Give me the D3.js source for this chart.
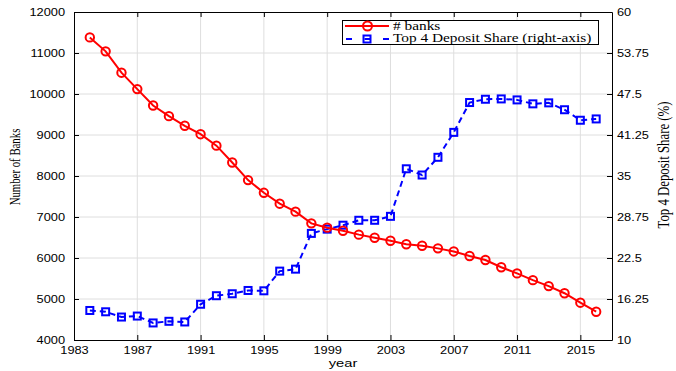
<!DOCTYPE html>
<html>
<head>
<meta charset="utf-8">
<script src="https://cdn.jsdelivr.net/npm/d3@7"></script>
<style>
  html, body { margin: 0; padding: 0; background: #fff; }
  svg { display: block; }
</style>
</head>
<body>
<svg id="chart" width="676" height="371"></svg>
<script>
// Number of banks and top-4 deposit share, 1984–2016
const years = d3.range(1984, 2017);
const banks = [11380, 11040, 10520, 10120, 9720, 9460, 9225, 9020, 8740, 8330,
  7900, 7590, 7325, 7130, 6845, 6740, 6665, 6570, 6495, 6420,
  6335, 6300, 6235, 6160, 6050, 5950, 5775, 5625, 5460, 5315,
  5140, 4910, 4690];
const share = [14.5, 14.3, 13.5, 13.65, 12.6, 12.85, 12.75, 15.45, 16.75, 17.05,
  17.55, 17.5, 20.5, 20.8, 26.25, 26.9, 27.5, 28.25, 28.25, 28.85,
  36.1, 35.15, 37.85, 41.65, 46.2, 46.7, 46.75, 46.6, 46.0, 46.15,
  45.1, 43.5, 43.7];
const xTicks = [1983, 1987, 1991, 1995, 1999, 2003, 2007, 2011, 2015];
const yLeftTicks = [4000, 5000, 6000, 7000, 8000, 9000, 10000, 11000, 12000];
const yRightTicks = [10, 16.25, 22.5, 28.75, 35, 41.25, 47.5, 53.75, 60];

const svg = d3.select("#chart");
const L = 74, R = 612, T = 12, B = 340;
const SX = 1.28; // horizontal stretch applied to all text glyphs

const x = d3.scaleLinear().domain([1983, 2017]).range([L, R]);
const yL = d3.scaleLinear().domain([4000, 12000]).range([B, T]);
const yR = d3.scaleLinear().domain([10, 60]).range([B, T]);

const sans = "'Liberation Sans', Arial, sans-serif";
const serif = "'Liberation Serif', 'Times New Roman', serif";

// grid
const grid = svg.append("g").attr("stroke", "#dedede").attr("stroke-width", 1);
xTicks.slice(1).forEach(t => grid.append("line")
  .attr("x1", x(t)).attr("x2", x(t)).attr("y1", T).attr("y2", B));
yLeftTicks.slice(1, -1).forEach(t => grid.append("line")
  .attr("x1", L).attr("x2", R).attr("y1", yL(t)).attr("y2", yL(t)));

// axes
function styleAxis(g) {
  g.select(".domain").attr("stroke", "#000").attr("stroke-width", 1);
  g.selectAll(".tick line").attr("stroke", "#000");
  g.selectAll(".tick text").attr("font-family", sans).attr("font-size", 10).attr("fill", "#000")
    .each(function () {
      const t = d3.select(this);
      const x0 = +t.attr("x") || 0;
      t.attr("x", x0 / SX).attr("transform", `scale(${SX},1)`);
    });
}
const ax = svg.append("g").attr("transform", `translate(0,${B})`)
  .call(d3.axisBottom(x).tickValues(xTicks).tickFormat(d3.format("d")).tickSizeInner(-5).tickSizeOuter(0).tickPadding(7.3));
styleAxis(ax);
const axTop = svg.append("g").attr("transform", `translate(0,${T})`)
  .call(d3.axisTop(x).tickValues(xTicks).tickFormat("").tickSizeInner(-5).tickSizeOuter(0));
styleAxis(axTop);
const ayL = svg.append("g").attr("transform", `translate(${L},0)`)
  .call(d3.axisLeft(yL).tickValues(yLeftTicks).tickFormat(d3.format("d")).tickSizeInner(-5).tickSizeOuter(0).tickPadding(9));
styleAxis(ayL);
const ayR = svg.append("g").attr("transform", `translate(${R},0)`)
  .call(d3.axisRight(yR).tickValues(yRightTicks).tickFormat(d => String(d)).tickSizeInner(-5).tickSizeOuter(0).tickPadding(5));
styleAxis(ayR);

// axis titles
svg.append("text").attr("transform", `translate(343,367) scale(${SX},1)`).attr("text-anchor", "middle")
  .attr("font-family", sans).attr("font-size", 11.5).text("year");
svg.append("text").attr("transform", `translate(19.5,167) scale(${SX},1) rotate(-90)`)
  .attr("text-anchor", "middle").attr("font-family", serif).attr("font-size", 10.8)
  .text("Number of Banks");
svg.append("text").attr("transform", `translate(669,165) scale(${SX},1) rotate(-90)`)
  .attr("text-anchor", "middle").attr("font-family", serif).attr("font-size", 12.8)
  .text("Top 4 Deposit Share (%)");

// series
const red = "#ff0000", blue = "#0000ff";
const lineBanks = d3.line().x((d, i) => x(years[i])).y(d => yL(d));
const lineShare = d3.line().x((d, i) => x(years[i])).y(d => yR(d));

svg.append("path").datum(share).attr("d", lineShare).attr("fill", "none")
  .attr("stroke", blue).attr("stroke-width", 2).attr("stroke-dasharray", "6,4");
svg.append("g").selectAll("rect").data(share).join("rect")
  .attr("x", (d, i) => x(years[i]) - 3.5).attr("y", d => yR(d) - 3.5)
  .attr("width", 7).attr("height", 7)
  .attr("fill", "none").attr("stroke", blue).attr("stroke-width", 2);

svg.append("path").datum(banks).attr("d", lineBanks).attr("fill", "none")
  .attr("stroke", red).attr("stroke-width", 2);
svg.append("g").selectAll("circle").data(banks).join("circle")
  .attr("cx", (d, i) => x(years[i])).attr("cy", d => yL(d)).attr("r", 4.2)
  .attr("fill", "none").attr("stroke", red).attr("stroke-width", 2);

// legend
const lg = svg.append("g");
lg.append("rect").attr("x", 342.5).attr("y", 20.5).attr("width", 256).attr("height", 24)
  .attr("fill", "#fff").attr("stroke", "#000").attr("stroke-width", 1);
lg.append("line").attr("x1", 345).attr("x2", 389).attr("y1", 26).attr("y2", 26)
  .attr("stroke", red).attr("stroke-width", 2);
lg.append("circle").attr("cx", 367.5).attr("cy", 26).attr("r", 4.5)
  .attr("fill", "none").attr("stroke", red).attr("stroke-width", 2);
lg.append("line").attr("x1", 346).attr("x2", 389).attr("y1", 39).attr("y2", 39)
  .attr("stroke", blue).attr("stroke-width", 2).attr("stroke-dasharray", "6,12.5");
lg.append("rect").attr("x", 363.5).attr("y", 35.5).attr("width", 7).attr("height", 7)
  .attr("fill", "none").attr("stroke", blue).attr("stroke-width", 2);
lg.append("text").attr("transform", `translate(393,29.5) scale(${SX},1)`)
  .attr("font-family", serif).attr("font-size", 12).text("# banks");
lg.append("text").attr("transform", `translate(393,42) scale(${SX},1)`)
  .attr("font-family", serif).attr("font-size", 12).text("Top 4 Deposit Share (right-axis)");
</script>
</body>
</html>
